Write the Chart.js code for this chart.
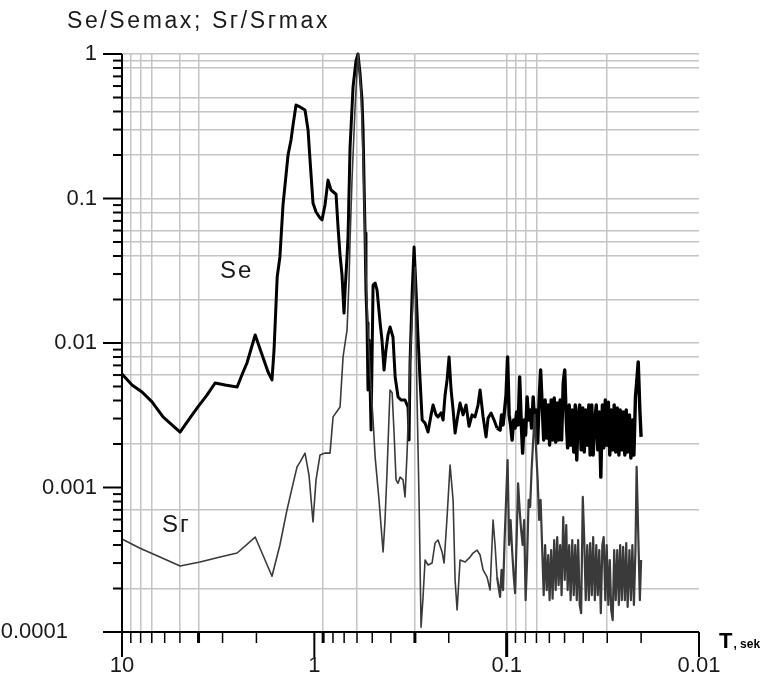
<!DOCTYPE html>
<html><head><meta charset="utf-8">
<script src="https://cdn.jsdelivr.net/npm/chart.js@4.4.0/dist/chart.umd.min.js"></script>
<style>html,body{margin:0;padding:0;background:#fff;}canvas{display:block;}</style>
</head><body>
<canvas id="c" width="770" height="689"></canvas>
<script>
// Period T (s) and normalized spectra
const seT = [10,8.87,7.87,6.98,6.12,5.50,4.99,4.43,4.03,3.61,3.28,2.91,2.52,2.38,2.24,2.03,1.87,1.74,1.66,1.62,
1.56,1.51,1.455,1.403,1.37,1.322,1.29,1.245,1.187,1.118,1.078,1.053,1.016,0.980,0.934,0.912,0.880,0.849,0.819,0.771,
0.753,0.735,0.718,0.701,0.692,0.676,0.668,0.652,0.629,0.607,0.593,0.579,0.565,0.558,0.545,0.539,0.532,0.526,0.519,0.507,
0.495,0.483,0.472,0.455,0.445,0.434,0.424,0.414,0.404,0.390,0.380,0.367,0.354,0.3376,0.3256,0.3217,0.318,0.310,0.303,0.296,
0.289,0.282,0.275,0.2656,0.2563,0.2472,0.2414,0.2329,0.2274,0.2194,0.2141,0.2090,0.2041,0.1993,0.1945,0.1899,0.1854,0.1810,0.1747,0.1685,
0.1626,0.1569,0.1513,0.1460,0.1409,0.1375,0.1326,0.1280,0.1249,0.1205,0.1163,0.1122];
const seV = [0.0061,0.00512,0.00458,0.00391,0.00308,0.00271,0.00242,0.00303,0.00361,0.00437,0.00529,0.00512,0.00496,0.00601,0.00727,0.01136,0.0083,0.0063,0.00555,0.00895,
0.0286,0.0394,0.0902,0.1455,0.2,0.254,0.323,0.443,0.43,0.41,0.298,0.185,0.093,0.0807,0.0733,0.0712,0.0902,0.134,0.1145,0.107,
0.0635,0.0406,0.0296,0.0161,0.0233,0.0394,0.0542,0.227,0.591,0.9,1.0,0.74,0.48,0.298,0.0577,0.0233,0.0138,0.00473,0.0105,0.0025,
0.0252,0.026,0.0233,0.0138,0.0105,0.0065,0.00895,0.0114,0.0129,0.011,0.00582,0.00423,0.00403,0.00403,0.0036,0.00213,0.00727,0.0222,0.0462,0.0233,
0.011,0.00555,0.00293,0.00279,0.00242,0.00318,0.00372,0.00318,0.00308,0.00328,0.00293,0.00437,0.00555,0.008,0.00473,0.00344,0.00238,0.00293,0.00384,0.00318,
0.00372,0.00265,0.00318,0.00308,0.00372,0.00473,0.00308,0.00224,0.00303,0.00328,0.00293,0.00258];

const srT = [10,8.06,6.35,4.99,3.93,3.09,2.52,2.03,1.66,1.51,1.387,1.306,1.230,1.187,1.118,1.066,1.016,0.980,0.934,0.880,
0.829,0.799,0.735,0.709,0.692,0.676,0.660,0.652,0.637,0.614,0.593,0.572,0.558,0.539,0.526,0.513,0.495,0.483,0.461,0.439,
0.429,0.419,0.409,0.404,0.394,0.385,0.376,0.367,0.358,0.3457,0.3376,0.3295,0.318,0.3067,0.2995,0.2923,0.2854,0.2787,0.2721,0.2656,
0.2563,0.2443,0.2357,0.2274,0.2167,0.2115,0.2041,0.1969,0.1899,0.1854,0.1810,0.1747,0.1645,0.1550,0.1495,0.1425,0.1375,0.1326,0.1264,0.1220,
0.1177,0.1149,0.1122];
const srV = [0.00044,0.00038,0.00033,0.000286,0.000305,0.00033,0.000352,0.000454,0.000243,0.0004,0.0007,0.00099,0.00139,0.0015,0.00173,0.00122,0.000577,0.00113,0.00168,0.00173,
0.00173,0.00308,0.00361,0.0080,0.0100,0.0123,0.0273,0.0516,0.134,0.43,1.0,0.564,0.194,0.0305,0.0123,0.0062,0.00293,0.00163,0.00082,0.000358,
0.000596,0.00126,0.00308,0.00473,0.00452,0.00238,0.00113,0.00107,0.00118,0.00113,0.00086,0.00173,0.00727,0.02,0.0336,0.00403,0.00082,0.000108,0.000175,0.000315,
0.000291,0.0003,0.000413,0.000433,0.000358,0.0003,0.000625,0.00143,0.00082,0.000229,0.000142,0.000315,0.000305,0.00033,0.000352,0.000369,0.000341,0.000269,0.00024,0.000195,
0.000596,0.0004,0.00024];

// high-frequency part (short periods), dense noisy band
const hfT = [0.1082,0.1063,0.1044,0.1025,0.1007,0.0989,0.0971,0.0954,0.0937,0.0920,0.0904,0.0888,0.0872,0.0856,0.0841,0.0826,0.0811,0.0797,0.0783,0.0769,
0.0755,0.0742,0.0728,0.0715,0.0703,0.0690,0.0678,0.0666,0.0654,0.0642,0.0631,0.0619,0.0608,0.0598,0.0587,0.0577,0.0566,0.0556,0.0546,0.0537,
0.0527,0.0518,0.0508,0.0499,0.0490,0.0482,0.0473,0.0465,0.0456,0.0448,0.0440,0.0432,0.0425,0.0417,0.0410,0.0402,0.0395,0.0388,0.0381,0.0374,
0.0368,0.0361,0.0355,0.0348,0.0342,0.0336,0.0330,0.0324,0.0318,0.0313,0.0307,0.0302,0.0296,0.0291,0.0286,0.0281,0.0276,0.0271,0.0266,0.0261,
0.0257,0.0252,0.0248,0.0243,0.0239,0.0235,0.0230,0.0226,0.0222,0.0218,0.0214,0.0211,0.0207,0.0203,0.0200];
const seHf = [0.0025,0.00318,0.00271,0.00344,0.00437,0.0080,0.00318,0.00271,0.00213,0.00293,0.00258,0.00333,0.00271,0.00582,0.00293,0.00173,0.00293,0.00231,0.00423,0.00293,
0.00344,0.00258,0.00423,0.00271,0.00344,0.00203,0.00403,0.0065,0.00372,0.00213,0.00403,0.0022,0.00372,0.00197,0.00403,0.00213,0.00416,0.00206,0.00384,0.00213,
0.00403,0.00213,0.00529,0.0065,0.00293,0.00188,0.00372,0.00197,0.00344,0.00176,0.00372,0.00155,0.00318,0.00372,0.00182,0.00355,0.00176,0.00344,0.00197,0.00372,
0.00168,0.00372,0.00168,0.00293,0.00372,0.00182,0.00333,0.00118,0.00372,0.00188,0.00403,0.00197,0.0039,0.00168,0.00344,0.00182,0.00372,0.00176,0.00355,0.00168,
0.00344,0.00182,0.00333,0.00168,0.00344,0.00176,0.00318,0.0016,0.00293,0.00168,0.00423,0.00529,0.00739,0.00344,0.00224];
const srHf = [0.000175,0.000269,0.000195,0.000433,0.00082,0.00155,0.0004,0.000596,0.000369,0.000248,0.000186,0.000433,0.00107,0.000699,0.000508,0.0004,0.000596,0.000166,0.000315,0.00082,
0.000733,0.00132,0.00213,0.00318,0.00182,0.00113,0.000596,0.00082,0.000388,0.00018,0.0004,0.000195,0.000341,0.000166,0.000369,0.00017,0.000433,0.000195,0.000454,0.000211,
0.0004,0.00018,0.000625,0.000229,0.00055,0.000195,0.0004,0.000166,0.000433,0.00018,0.0004,0.000166,0.000433,0.000154,0.000135,0.00086,0.000433,0.000166,0.0004,0.000166,
0.000413,0.00018,0.000454,0.000166,0.0004,0.00018,0.000369,0.000135,0.0004,0.000454,0.000166,0.0004,0.000154,0.000315,0.000142,0.000121,0.000369,0.000166,0.000369,0.000154,
0.0004,0.000166,0.000388,0.000166,0.000413,0.000149,0.000369,0.000166,0.0004,0.000154,0.000369,0.00139,0.000484,0.000166,0.000315];

// axes definition
const xMajorTicks = [10, 1, 0.1, 0.01];
const xTickLabels = ['10', '1', '0.1', '0.01'];
const xMinorTicks = [9,8,7,6,5,4,3,2,0.9,0.8,0.7,0.6,0.5,0.4,0.3,0.2,0.09,0.08,0.07,0.06,0.05,0.04,0.03,0.02];
const xBoldTicks = [4, 0.9, 0.3, 0.1];
const xGridValues = [9,8,7,5,4,0.9,0.6,0.3,0.1,0.09,0.08,0.07,0.03];
const yMajorTicks = [1, 0.1, 0.01, 0.001, 0.0001];
const yTickLabels = ['1', '0.1', '0.01', '0.001', '0.0001'];
const yMinorTicks = [0.9,0.8,0.7,0.6,0.5,0.4,0.3,0.2,0.09,0.08,0.07,0.06,0.05,0.04,0.03,0.02,
  0.009,0.008,0.007,0.006,0.005,0.004,0.003,0.002,0.0009,0.0008,0.0007,0.0006,0.0005,0.0004,0.0003,0.0002];
const yGridValues = [1,0.9,0.8,0.5,0.4,0.3,0.2,0.1,0.08,0.06,0.05,0.04,0.02,0.01,0.008,0.006,0.002,0.0007,0.0002];

const titleText = 'Sе/Sеmax; Sг/Sгmax';
const seLabel = 'Sе';
const srLabel = 'Sг';
const xAxisTitle = 'T';
const xAxisUnit = ', sek';
// label anchors in data units
const seLabelAt = {x: 3.09, y: 0.0315};
const srLabelAt = {x: 6.19, y: 0.00055};

const toPts = (ts, vs) => ts.map((t, i) => ({x: t, y: vs[i]}));
const seMain = toPts(seT, seV);
const srMain = toPts(srT, srV);
// the dense part continues from the last point of the main part
const seDense = [seMain[seMain.length - 1]].concat(toPts(hfT, seHf));
const srDense = [srMain[srMain.length - 1]].concat(toPts(hfT, srHf));

const FONT = '"Liberation Sans", Arial, sans-serif';

const decor = {
  id: 'decor',
  afterDraw(chart) {
    const {ctx, chartArea: a, scales: {x, y}} = chart;
    ctx.save();
    ctx.strokeStyle = '#000';
    ctx.lineCap = 'butt';
    ctx.lineWidth = 2;
    ctx.beginPath(); ctx.moveTo(a.left - 18, a.bottom); ctx.lineTo(a.right, a.bottom); ctx.stroke();
    ctx.beginPath(); ctx.moveTo(a.left, a.top); ctx.lineTo(a.left, a.bottom); ctx.stroke();
    xMinorTicks.forEach(v => {
      const p = x.getPixelForValue(v);
      ctx.lineWidth = xBoldTicks.includes(v) ? 3 : 1.5;
      ctx.beginPath(); ctx.moveTo(p, a.bottom); ctx.lineTo(p, a.bottom + 11); ctx.stroke();
    });
    xMajorTicks.forEach(v => {
      const p = x.getPixelForValue(v);
      ctx.lineWidth = xBoldTicks.includes(v) ? 3 : 2;
      ctx.beginPath(); ctx.moveTo(p, a.bottom); ctx.lineTo(p, a.bottom + 25); ctx.stroke();
    });
    yMinorTicks.forEach(v => {
      const p = y.getPixelForValue(v);
      ctx.lineWidth = 2;
      ctx.beginPath(); ctx.moveTo(a.left - 9, p); ctx.lineTo(a.left, p); ctx.stroke();
    });
    yMajorTicks.forEach(v => {
      const p = y.getPixelForValue(v);
      ctx.lineWidth = 2;
      ctx.beginPath(); ctx.moveTo(a.left - 19, p); ctx.lineTo(a.left, p); ctx.stroke();
    });
    ctx.fillStyle = '#1a1a1a';
    ctx.font = '22px ' + FONT;
    ctx.textAlign = 'center'; ctx.textBaseline = 'middle';
    xMajorTicks.forEach((v, i) => ctx.fillText(xTickLabels[i], x.getPixelForValue(v), a.bottom + 34));
    ctx.textAlign = 'right';
    yMajorTicks.forEach((v, i) => {
      const last = i === yMajorTicks.length - 1;
      ctx.fillText(yTickLabels[i], last ? a.left - 54 : a.left - 25, y.getPixelForValue(v));
    });
    ctx.textAlign = 'left';
    ctx.font = '23px ' + FONT;
    if ('letterSpacing' in ctx) ctx.letterSpacing = '2.6px';
    ctx.fillText(titleText, 67, 22);
    ctx.font = '24px ' + FONT;
    if ('letterSpacing' in ctx) ctx.letterSpacing = '2px';
    ctx.fillText(seLabel, x.getPixelForValue(seLabelAt.x), y.getPixelForValue(seLabelAt.y));
    ctx.fillText(srLabel, x.getPixelForValue(srLabelAt.x), y.getPixelForValue(srLabelAt.y));
    if ('letterSpacing' in ctx) ctx.letterSpacing = '0px';
    ctx.textBaseline = 'alphabetic';
    ctx.fillStyle = '#000';
    ctx.font = 'bold 22px ' + FONT;
    ctx.fillText(xAxisTitle, a.right + 20, a.bottom + 16);
    const tw = ctx.measureText(xAxisTitle).width;
    ctx.font = 'bold 12px ' + FONT;
    ctx.fillText(xAxisUnit, a.right + 20 + tw + 1, a.bottom + 16);
    ctx.restore();
  }
};

const lineBase = {pointRadius: 0, tension: 0, fill: false, borderJoinStyle: 'round', clip: 6};

new Chart(document.getElementById('c'), {
  type: 'line',
  data: {
    datasets: [
      Object.assign({label: seLabel, data: seMain, borderColor: '#000', borderWidth: 3, order: 3}, lineBase),
      Object.assign({label: seLabel + ' hf', data: seDense, borderColor: '#000', borderWidth: 3.4, order: 2}, lineBase),
      Object.assign({label: srLabel, data: srMain, borderColor: '#3a3a3a', borderWidth: 1.6, order: 1}, lineBase),
      Object.assign({label: srLabel + ' hf', data: srDense, borderColor: '#3a3a3a', borderWidth: 2.2, order: 0}, lineBase)
    ]
  },
  options: {
    responsive: false,
    animation: false,
    devicePixelRatio: 1,
    layout: {padding: {top: 54, right: 71, left: 0, bottom: 0}},
    scales: {
      x: {
        type: 'logarithmic', reverse: true, min: 0.01, max: 10,
        afterBuildTicks: s => { s.ticks = xGridValues.map(v => ({value: v})); },
        afterFit: s => { s.height = 57; },
        grid: {color: '#c4c4c4', lineWidth: 1.5, drawTicks: false},
        border: {display: false},
        ticks: {display: false, autoSkip: false}
      },
      y: {
        type: 'logarithmic', min: 0.0001, max: 1,
        afterBuildTicks: s => { s.ticks = yGridValues.map(v => ({value: v})); },
        afterFit: s => { s.width = 122; },
        grid: {color: '#c4c4c4', lineWidth: 1.5, drawTicks: false},
        border: {display: false},
        ticks: {display: false, autoSkip: false}
      }
    },
    plugins: {legend: {display: false}, tooltip: {enabled: false}, title: {display: false}}
  },
  plugins: [decor]
});
</script>
</body></html>
